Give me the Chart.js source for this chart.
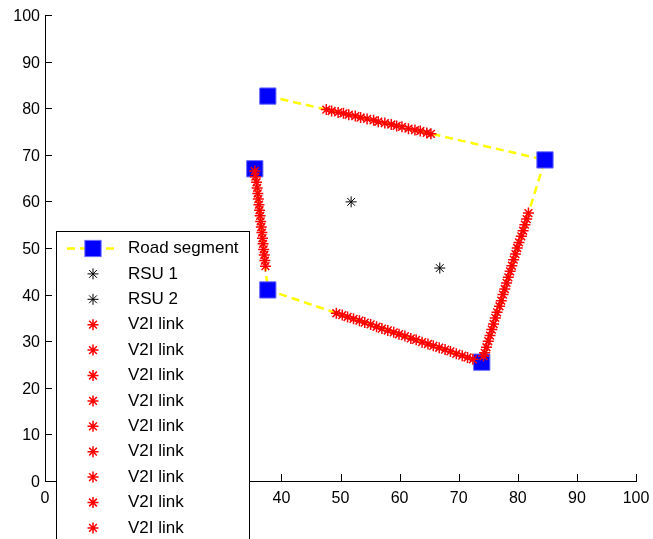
<!DOCTYPE html>
<html>
<head>
<meta charset="utf-8">
<script src="https://cdn.jsdelivr.net/npm/chart.js@4.4.1/dist/chart.umd.min.js"></script>
<style>
  html, body { margin: 0; padding: 0; background: #fff; }
  #wrap { width: 653px; height: 539px; position: relative; }
</style>
</head>
<body>
<div id="wrap"><canvas id="roadChart"></canvas></div>
<script>
const FONT = '"Liberation Sans", Arial, sans-serif';

// axis range / ticks
const axisMin = 0;
const axisMax = 100;
const tickStep = 10;

// road segment corners, in drawing order
const roadX = [37.7, 84.6, 73.9, 37.7, 35.5];
const roadY = [82.6, 68.9, 25.5, 41.0, 67.0];

// road side units
const rsu1 = [{ x: 51.8, y: 59.9 }];
const rsu2 = [{ x: 66.8, y: 45.7 }];

// V2I link points
const link1 = [[47.6,79.7],[48.5,79.4],[49.6,79.1],[50.5,78.9],[51.4,78.6],[52.5,78.3],[53.4,78.0],[54.5,77.7],[55.6,77.4],[56.4,77.1]];
const link2 = [[57.5,76.8],[58.6,76.5],[59.5,76.2],[60.4,76.0],[61.5,75.6],[62.6,75.3],[63.5,75.1],[64.6,74.7],[65.3,74.5]];
const link3 = [[81.8,57.5],[81.5,56.2],[81.2,55.0],[80.9,53.7],[80.6,52.5],[80.2,51.2],[79.9,50.0],[79.6,48.7],[79.3,47.5]];
const link4 = [[79.0,46.2],[78.7,45.0],[78.4,43.7],[78.1,42.5],[77.8,41.2],[77.5,40.0],[77.2,38.7],[76.9,37.5],[76.5,36.2]];
const link5 = [[76.2,35.0],[75.9,33.7],[75.6,32.5],[75.3,31.2],[75.0,30.0],[74.7,28.7],[74.4,27.5],[74.2,26.8]];
const link6 = [[49.3,36.0],[50.3,35.6],[51.2,35.2],[52.2,34.8],[53.2,34.4],[54.1,34.0],[55.1,33.6],[56.1,33.1],[57.0,32.7],[58.0,32.3],[59.0,31.9],[59.9,31.5]];
const link7 = [[60.9,31.1],[61.9,30.6],[62.8,30.3],[63.8,29.8],[64.8,29.4],[65.7,29.0],[66.7,28.6],[67.7,28.2],[68.6,27.8],[69.6,27.3],[70.6,26.9],[71.5,26.5],[72.4,26.1]];
const link8 = [[35.5,66.5],[35.6,65.3],[35.8,64.1],[35.9,62.9],[36.0,61.7],[36.1,60.5],[36.2,59.3],[36.3,58.1],[36.4,56.9]];
const link9 = [[36.5,55.7],[36.6,54.5],[36.7,53.3],[36.8,52.1],[36.9,50.9],[37.0,49.7],[37.1,48.5],[37.2,47.3],[37.3,46.1]];

const links = [link1, link2, link3, link4, link5, link6, link7, link8, link9];

const toPoints = arr => arr.map(p => ({ x: p[0], y: p[1] }));

function starSet(label, data, color, width, radius) {
    return {
        label: label,
        data: data,
        showLine: false,
        pointStyle: 'star',
        pointRadius: radius,
        pointBorderColor: color,
        pointBackgroundColor: color,
        pointBorderWidth: width
    };
}

const datasets = [
    {
        label: 'Road segment',
        data: roadX.map((x, i) => ({ x: x, y: roadY[i] })),
        showLine: true,
        borderColor: '#ffff00',
        borderWidth: 2.5,
        borderDash: [8, 5],
        pointStyle: 'rect',
        pointRadius: 11.5,
        pointBackgroundColor: '#0000ff',
        pointBorderColor: '#6b6bff',
        pointBorderWidth: 1,
        order: 20
    },
    starSet('RSU 1', rsu1, '#000000', 1, 5.5),
    starSet('RSU 2', rsu2, '#000000', 1, 5.5)
];
links.forEach(l => datasets.push(starSet('V2I link', toPoints(l), '#ff0000', 1.5, 5.5)));

// small marker drawing for the legend
function drawMarker(ctx, ds, x, y) {
    ctx.save();
    ctx.strokeStyle = ds.pointBorderColor;
    ctx.fillStyle = ds.pointBackgroundColor;
    ctx.lineWidth = ds.pointBorderWidth;
    ctx.setLineDash([]);
    if (ds.pointStyle === 'rect') {
        const s = ds.pointRadius * Math.SQRT1_2;
        ctx.fillRect(x - s, y - s, 2 * s, 2 * s);
        ctx.strokeRect(x - s, y - s, 2 * s, 2 * s);
    } else {
        const r = ds.pointRadius;
        const d = r * Math.SQRT1_2;
        ctx.beginPath();
        ctx.moveTo(x - r, y); ctx.lineTo(x + r, y);
        ctx.moveTo(x, y - r); ctx.lineTo(x, y + r);
        ctx.moveTo(x - d, y - d); ctx.lineTo(x + d, y + d);
        ctx.moveTo(x - d, y + d); ctx.lineTo(x + d, y - d);
        ctx.stroke();
    }
    ctx.restore();
}

// MATLAB style ticks pointing into the plot
const innerTicks = {
    id: 'innerTicks',
    afterDraw(chart) {
        const { ctx, scales: { x, y } } = chart;
        ctx.save();
        ctx.strokeStyle = '#000';
        ctx.lineWidth = 1;
        ctx.beginPath();
        x.ticks.forEach(t => {
            const px = Math.round(x.getPixelForValue(t.value)) + 0.5;
            ctx.moveTo(px, y.bottom);
            ctx.lineTo(px, y.bottom - 7);
        });
        y.ticks.forEach(t => {
            const py = Math.round(y.getPixelForValue(t.value)) + 0.5;
            ctx.moveTo(x.left, py);
            ctx.lineTo(x.left + 7, py);
        });
        ctx.stroke();
        ctx.restore();
    }
};

// boxed legend sitting over the lower left of the plot
const boxLegend = {
    id: 'boxLegend',
    afterDraw(chart) {
        const ctx = chart.ctx;
        const left = 56, top = 231, right = 249;
        const firstRow = 248.5, rowH = 25.4;
        ctx.save();
        ctx.fillStyle = '#fff';
        ctx.fillRect(left, top, right - left, chart.height);
        ctx.strokeStyle = '#000';
        ctx.lineWidth = 1;
        ctx.strokeRect(left + 0.5, top + 0.5, right - left, chart.height);
        chart.data.datasets.forEach((ds, i) => {
            const cy = firstRow + i * rowH;
            if (ds.showLine) {
                ctx.save();
                ctx.strokeStyle = ds.borderColor;
                ctx.lineWidth = ds.borderWidth;
                ctx.setLineDash(ds.borderDash);
                ctx.beginPath();
                ctx.moveTo(67, cy);
                ctx.lineTo(119, cy);
                ctx.stroke();
                ctx.restore();
            }
            drawMarker(ctx, ds, 93, cy);
            ctx.fillStyle = '#000';
            ctx.font = '17px ' + FONT;
            ctx.textBaseline = 'middle';
            ctx.textAlign = 'left';
            ctx.fillText(ds.label, 128, cy);
        });
        ctx.restore();
    }
};

function axisOptions(fitFn, pad, shift) {
    return {
        type: 'linear',
        min: axisMin,
        max: axisMax,
        grid: { display: false },
        border: { display: true, color: '#000', width: 1 },
        ticks: {
            stepSize: tickStep,
            autoSkip: false,
            maxRotation: 0,
            color: '#000',
            font: { family: FONT, size: 16 },
            padding: pad,
            labelOffset: shift
        },
        afterFit: fitFn
    };
}

document.addEventListener('DOMContentLoaded', () => {
    const ctx = document.getElementById('roadChart').getContext('2d');
    new Chart(ctx, {
        type: 'scatter',
        data: { datasets: datasets },
        options: {
            responsive: true,
            maintainAspectRatio: false,
            animation: false,
            events: [],
            layout: { padding: { top: 15, right: 17, left: 0, bottom: 0 } },
            plugins: {
                legend: { display: false },
                tooltip: { enabled: false }
            },
            scales: {
                x: axisOptions(s => { s.height = 58; }, 0, 0),
                y: axisOptions(s => { s.width = 45; }, -3, 1.5)
            }
        },
        plugins: [innerTicks, boxLegend]
    });
});
</script>
</body>
</html>
